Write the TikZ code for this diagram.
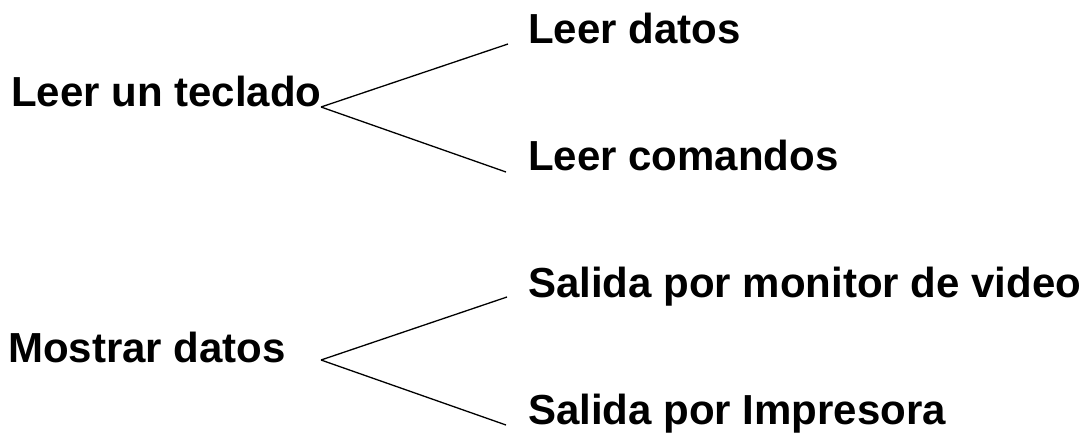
\documentclass[tikz,border=0pt]{standalone}
\usepackage{fontspec}
\setmainfont{Liberation Sans}
\usetikzlibrary{positioning}

\tikzset{
  tema/.style = {anchor=base west, inner sep=0pt, font=\bfseries\fontsize{42}{50}\selectfont},
  rama/.style = {line width=1.3pt},
}

\begin{document}
\begin{tikzpicture}[x=1pt, y=-1pt]
    \useasboundingbox (0,0) rectangle (1088,432);
    % leer
    \node[tema] (teclado) at (11,106) {Leer un teclado};
    \node[tema] (ldatos) at (528,43) {Leer datos};
    \node[tema] (lcomandos) at (528,170) {Leer comandos};
    \coordinate (v1) at (321,107);
    \coordinate (ed) at (508,44);
    \coordinate (ec) at (506,172);
    \draw[rama] (v1) -- (ed);
    \draw[rama] (v1) -- (ec);
    % mostrar
    \node[tema] (mostrar) at (8,362) {Mostrar datos};
    \node[tema] (smonitor) at (528,297) {Salida por monitor de video};
    \node[tema] (simpresora) at (528,424) {Salida por Impresora};
    \coordinate (v2) at (321,360);
    \coordinate (em) at (507,297);
    \coordinate (ei) at (506,425);
    \draw[rama] (v2) -- (em);
    \draw[rama] (v2) -- (ei);
\end{tikzpicture}
\end{document}
